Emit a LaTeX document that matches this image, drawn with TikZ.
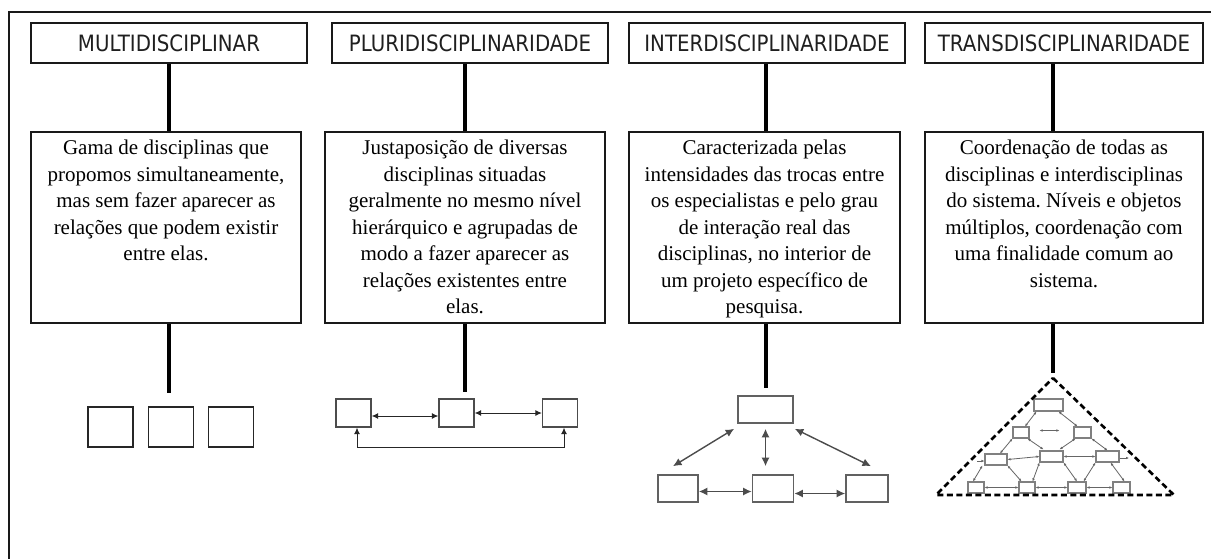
\documentclass[tikz,border=0pt]{standalone}
\usepackage{fontspec}
\setmainfont{Liberation Serif}
\newfontfamily\titlefont[FakeStretch=0.88]{DejaVu Sans}
\usetikzlibrary{arrows.meta}
\frenchspacing
\tikzset{
  frameline/.style={line width=2pt, draw=black!90},
  titlebox/.style={draw=black!90, line width=2pt, minimum width=276pt, minimum height=40pt, inner sep=0pt,
    font=\titlefont\fontsize{22.5}{27}\selectfont, text=black!88},
  descbox/.style={draw=black!90, line width=2.2pt, inner sep=0pt, font=\fontsize{21}{26.5}\selectfont},
  stem/.style={line width=3.6pt, draw=black},
  sqbox/.style={draw=black!85, line width=1.5pt, minimum width=45pt, minimum height=40pt, inner sep=0pt},
  pbox/.style={draw=black!70, line width=1.3pt, minimum width=35pt, minimum height=28pt, inner sep=0pt},
  parr/.style={draw=black!85, line width=1pt, {Latex[length=6.5pt,width=6pt]}-{Latex[length=6.5pt,width=6pt]}},
  ibox/.style={draw=black!62, line width=1.6pt, minimum height=27pt, inner sep=0pt},
  iarr/.style={draw=black!70, line width=1.4pt, {Latex[length=8.5pt,width=8pt]}-{Latex[length=8.5pt,width=8pt]}},
  nbox/.style={draw=black!50, line width=1.1pt, minimum height=11pt, inner sep=0pt, fill=white},
  narr/.style={draw=black!60, line width=0.8pt, {Latex[length=3pt,width=2.6pt]}-{Latex[length=3pt,width=2.6pt]}},
  narrone/.style={draw=black!60, line width=0.8pt, -{Latex[length=3pt,width=2.6pt]}},
  tri/.style={line width=2.6pt, draw=black, dash pattern=on 6pt off 3.5pt}
}
\newcommand{\desctext}[2]{\parbox[t][191pt][t]{#1}{\centering\frenchspacing\rule{0pt}{23pt}#2}}
\begin{document}
\begin{tikzpicture}[x=1pt,y=-1pt]
\useasboundingbox (0,0) rectangle (1211,559);
\fill[white] (0,0) rectangle (1211,559);
% outer frame
\coordinate (fa) at (9,559);
\coordinate (fb) at (9,12);
\coordinate (fc) at (1211,12);
\draw[frameline] (fa) -- (fb) -- (fc);

% titles
\node[titlebox] (t1) at (169,43) {MULTIDISCIPLINAR};
\node[titlebox] (t2) at (470,43) {PLURIDISCIPLINARIDADE};
\node[titlebox] (t3) at (767,43) {INTERDISCIPLINARIDADE};
\node[titlebox, minimum width=278pt] (t4) at (1064,43) {TRANSDISCIPLINARIDADE};

% descriptions
\node[descbox] (d1) at (166,227.5) {\desctext{270pt}{Gama de disciplinas que\\ propomos simultaneamente,\\ mas sem fazer aparecer as\\ relações que podem existir\\ entre elas.}};
\node[descbox] (d2) at (465,227.5) {\desctext{280pt}{Justaposição de diversas\\ disciplinas situadas\\ geralmente no mesmo nível\\ hierárquico e agrupadas de\\ modo a fazer aparecer as\\ relações existentes entre\\ elas.}};
\node[descbox] (d3) at (764.5,227.5) {\desctext{271pt}{Caracterizada pelas\\ intensidades das trocas entre\\ os especialistas e pelo grau\\ de interação real das\\ disciplinas, no interior de\\ um projeto específico de\\ pesquisa.}};
\node[descbox] (d4) at (1064,227.5) {\desctext{278pt}{Coordenação de todas as\\ disciplinas e interdisciplinas\\ do sistema. Níveis e objetos\\ múltiplos, coordenação com\\ uma finalidade comum ao\\ sistema.}};

% stems
\coordinate (s1) at (169,0);
\coordinate (s2) at (465,0);
\coordinate (s3) at (766,0);
\coordinate (s4) at (1053,0);
\coordinate (e1) at (169,393);
\coordinate (e2) at (465,392);
\coordinate (e3) at (766,388);
\coordinate (e4) at (1053,373);
\draw[stem] (s1 |- t1.south) -- (s1 |- d1.north);
\draw[stem] (s2 |- t2.south) -- (s2 |- d2.north);
\draw[stem] (s3 |- t3.south) -- (s3 |- d3.north);
\draw[stem] (s4 |- t4.south) -- (s4 |- d4.north);
\draw[stem] (s1 |- d1.south) -- (e1);
\draw[stem] (s2 |- d2.south) -- (e2);
\draw[stem] (s3 |- d3.south) -- (e3);
\draw[stem] (s4 |- d4.south) -- (e4);

% column 1: three squares
\node[sqbox] (q1) at (110.5,427) {};
\node[sqbox] (q2) at (171,427) {};
\node[sqbox] (q3) at (231,427) {};

% column 2
\node[pbox] (p1) at (353.5,413) {};
\node[pbox] (p2) at (456.5,413) {};
\node[pbox] (p3) at (560,413) {};
\draw[parr] ([shift={(0,3)}]p1.east) -- ([shift={(0,3)}]p2.west);
\draw[parr] (p2.east) -- (p3.west);
\draw[parr] ([shift={(3.5,0)}]p1.south) -- ++(0,20) -| ([shift={(4,0)}]p3.south);

% column 3
\node[ibox, minimum width=55pt] (i0) at (765.5,409.5) {};
\node[ibox, minimum width=40pt] (i1) at (678,488.5) {};
\node[ibox, minimum width=41pt] (i2) at (773,488.5) {};
\node[ibox, minimum width=42pt] (i3) at (867,488.5) {};
\draw[iarr] ([shift={(-3,5)}]i0.south west) -- ([shift={(-5,-8)}]i1.north);
\draw[iarr] ([shift={(0,5)}]i0.south) -- ([shift={(0,-8)}]i0.south |- i2.north);
\draw[iarr] ([shift={(1,5)}]i0.south east) -- ([shift={(4,-8)}]i3.north);
\draw[iarr] ([shift={(0,3)}]i1.east) -- ([shift={(0,3)}]i2.west);
\draw[iarr] ([shift={(0,5)}]i2.east) -- ([shift={(0,5)}]i3.west);

% column 4: network inside dashed triangle
\node[nbox, minimum width=29pt, minimum height=12pt] (n0) at (1048.5,405) {};
\node[nbox, minimum width=16pt] (n21) at (1021,432.5) {};
\node[nbox, minimum width=17pt] (n22) at (1082.5,432.5) {};
\node[nbox, minimum width=22pt] (n31) at (996,459.5) {};
\node[nbox, minimum width=23pt] (n32) at (1051.5,456.5) {};
\node[nbox, minimum width=23pt] (n33) at (1107.5,456.5) {};
\node[nbox, minimum width=16pt] (n41) at (976,487.5) {};
\node[nbox, minimum width=16pt] (n42) at (1027,487.5) {};
\node[nbox, minimum width=18pt] (n43) at (1077,487.5) {};
\node[nbox, minimum width=17pt] (n44) at (1121.5,487.5) {};
\draw[narr] ([shift={(3,0)}]n0.south west) -- ([shift={(4,0)}]n21.north);
\draw[narr] ([shift={(-5,0)}]n0.south east) -- ([shift={(-5,0)}]n22.north);
\draw[narr] ([shift={(10,-2)}]n21.east) -- ([shift={(-14,-2)}]n22.west);
\draw[narr] (n21.south west) -- ([shift={(4,0)}]n31.north);
\draw[narr] ([shift={(-2,0)}]n21.south east) -- ([shift={(4,-1)}]n32.north west);
\draw[narr] ([shift={(2,0)}]n22.south west) -- ([shift={(-4,-1)}]n32.north east);
\draw[narr] (n22.south east) -- (n33.north);
\draw[narr] (n31.east) -- (n32.west);
\draw[narr] (n32.east) -- (n33.west);
\draw[narr] ([shift={(-2,0)}]n31.south west) -- ([shift={(-3,0)}]n41.north);
\draw[narr] (n31.south east) -- ([shift={(3,0)}]n42.north west);
\draw[narr] (n32.south west) -- ([shift={(-3,0)}]n42.north east);
\draw[narr] (n32.south east) -- (n43.north);
\draw[narr] (n33.south west) -- ([shift={(-3,0)}]n43.north east);
\draw[narr] ([shift={(3,0)}]n33.south) -- ([shift={(3,0)}]n44.north);
\draw[narr] (n41.east) -- (n42.west);
\draw[narr] (n42.east) -- (n43.west);
\draw[narr] (n43.east) -- (n44.west);
\coordinate (lstub) at (977,461);
\coordinate (rstub) at (1129,458);
\draw[narrone] (lstub) -- (lstub -| n31.west);
\draw[narrone] (n33.east |- rstub) -- (rstub);
\coordinate (apex) at (1053,378);
\coordinate (bl) at (936,495);
\coordinate (br) at (1174,495);
\draw[tri] (apex) -- (br) -- (bl) -- cycle;
\end{tikzpicture}
\end{document}
